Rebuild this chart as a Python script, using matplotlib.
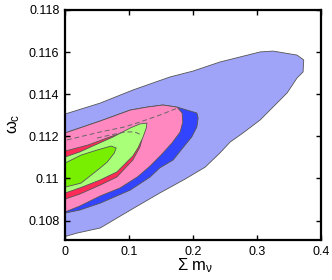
import matplotlib
matplotlib.use("Agg")
import matplotlib.pyplot as plt

plt.rcParams['font.family'] = ['Liberation Sans', 'DejaVu Sans']
plt.rcParams['mathtext.fontset'] = 'custom'
plt.rcParams['mathtext.rm'] = 'Liberation Sans'
plt.rcParams['mathtext.it'] = 'Liberation Sans'

# contour outlines, (sum m_nu, omega_c)
lb_x = [0, .055, .106, .164, .200, .242, .305, .325, .3625, .373, .372, .3625, .347,
        .325, .305, .278, .258, .242, .219, .1875, .148, .105, .055, .019, .003, 0]
lb_y = [.11306, .11358, .11420, .11482, .11510, .11553, .11601, .11605, .11586, .11563,
        .11506, .11477, .11406, .11339, .11278, .11216, .11173, .11121, .11054, .10997,
        .10931, .10855, .10765, .10741, .10727, .10727]

db_x = [0, .055, .102, .128, .153, .175, .206, .208, .206, .198, .184, .169, .148,
        .133, .102, .055, .023, 0]
db_y = [.11216, .11273, .11325, .11339, .11349, .11339, .11311, .11287, .11244, .11197,
        .11145, .11088, .11050, .11007, .10945, .10883, .10850, .10836]

pk_x = [0, .055, .102, .128, .153, .175, .183, .184, .180, .167, .150, .133, .113,
        .086, .055, .023, 0]
pk_y = [.11216, .11273, .11325, .11339, .11349, .11339, .11311, .11268, .11221, .11168,
        .11111, .11059, .11007, .10955, .10917, .10869, .10841]

rd_x = [0, .036, .070, .102, .117, .120, .117, .106, .081, .055, .023, 0]
rd_y = [.11130, .11159, .11197, .11230, .11216, .11183, .11149, .11088, .11007, .10969,
        .10926, .10902]

lg_x = [0, .023, .047, .075, .102, .117, .128, .127, .122, .114, .106, .081, .055, .023, 0]
lg_y = [.11102, .11126, .11159, .11197, .11240, .11259, .11263, .11240, .11197, .11145,
        .11107, .11031, .10993, .10955, .10931]

gr_x = [0, .025, .050, .072, .080, .077, .066, .055, .025, 0]
gr_y = [.11073, .11111, .11135, .11154, .11145, .11121, .11078, .11050, .10978, .10959]

dash1_x = [.003, .055, .092, .117, .148, .172, .180]
dash1_y = [.11183, .11221, .11244, .11268, .11301, .11330, .11335]
dash2_x = [.050, .070, .094, .109, .120]
dash2_y = [.11192, .11206, .11221, .11221, .11206]

xticks = [0, 0.1, 0.2, 0.3, 0.4]
xticklabels = ['0', '0.1', '0.2', '0.3', '0.4']
yticks = [0.108, 0.110, 0.112, 0.114, 0.116, 0.118]
yticklabels = ['0.108', '0.11', '0.112', '0.114', '0.116', '0.118']

fig = plt.figure(figsize=(3.32, 2.80), dpi=100)
ax = fig.add_axes([65/332, 40/280, 256/332, 230/280])

layers = [(lb_x, lb_y, '#a0a4f8'), (db_x, db_y, '#3344ff'), (pk_x, pk_y, '#ff88c0'),
          (rd_x, rd_y, '#ff2a55'), (lg_x, lg_y, '#aaff78'), (gr_x, gr_y, '#78ee00')]
for xs, ys, c in layers:
    ax.fill(xs, ys, facecolor=c, edgecolor='#555555', linewidth=0.6)

ax.plot(dash1_x, dash1_y, color='#666666', lw=0.7, ls=(0, (5, 3)))
ax.plot(dash2_x, dash2_y, color='#666666', lw=0.7, ls=(0, (5, 3)))

ax.set_xlim(0, 0.4)
ax.set_ylim(0.10708, 0.118)
ax.set_xticks(xticks)
ax.set_xticklabels(xticklabels)
ax.set_yticks(yticks)
ax.set_yticklabels(yticklabels)
ax.tick_params(direction='in', length=3.5, width=1, top=True, right=True, labelsize=9, pad=4)
for s in ax.spines.values():
    s.set_linewidth(1.6)

fig.text(195/332, 1 - 266/280, r'$\Sigma$ m$_\nu$', fontsize=12, ha='center', va='center')
fig.text(14/332, 1 - 124/280, r'$\omega_c$', fontsize=12, ha='center', va='center', rotation=90)

fig.savefig('out.png', dpi=100)
